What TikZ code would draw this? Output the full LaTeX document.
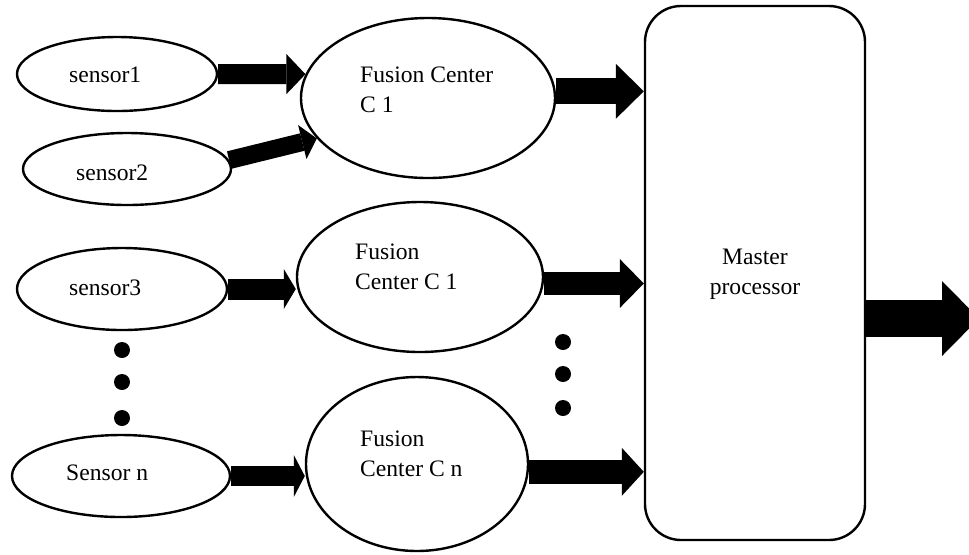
\documentclass[tikz,border=0pt]{standalone}
\usepackage{fontspec}
\setmainfont{Liberation Serif}
\usetikzlibrary{shapes.geometric,arrows.meta}
\begin{document}
\begin{tikzpicture}[x=0.5pt,y=-0.5pt,line width=1.2pt,
  oval/.style={ellipse,draw,fill=white,inner sep=0pt},
  procbox/.style={rectangle,draw,fill=white,rounded corners=18pt,inner sep=0pt},
  lbl/.style={font=\fontsize{11.8}{15}\selectfont,inner sep=0pt,align=left},
  blob/.style={fill=black},
  fat/.style n args={3}{line width=#1,
    -{Triangle[length=#3 0 0,width=#2 0 0,line width=0pt 0 0]}}]
\useasboundingbox (0,0) rectangle (969,554);
\clip (0,0) rectangle (969,554);

% sensors
\node[oval,minimum width=100pt,minimum height=37pt] (s1) at (117,74) {};
\node[oval,minimum width=104pt,minimum height=36pt] (s2) at (127,169) {};
\node[oval,minimum width=105pt,minimum height=41pt] (s3) at (122,289) {};
\node[oval,minimum width=109pt,minimum height=41pt] (sn) at (121,476) {};
\node[lbl,anchor=west] (s1t) at (68,75) {sensor1};
\node[lbl,anchor=west] (s2t) at (75,173) {sensor2};
\node[lbl,anchor=west] (s3t) at (68,288) {sensor3};
\node[lbl,anchor=west] (snt) at (65,473) {Sensor n};

% fusion centres
\node[oval,minimum width=127pt,minimum height=80pt] (fc1) at (428,98) {};
\node[oval,minimum width=123pt,minimum height=75pt] (fcm) at (420,277) {};
\node[oval,minimum width=111pt,minimum height=87pt] (fcn) at (417,464) {};
\node[lbl,anchor=west] (fc1t) at (359,90) {Fusion Center\\C 1};
\node[lbl,anchor=west] (fcmt) at (354,267) {Fusion\\Center C 1};
\node[lbl,anchor=west] (fcnt) at (359,454) {Fusion\\Center C n};

% master processor
\node[procbox,minimum width=110pt,minimum height=267pt] (master) at (755,273) {};
\node[lbl,align=center] (mastert) at (755,274) {Master\\processor};

% ellipsis dots
\fill[blob] (122,350) circle (4pt) (122,382) circle (4pt) (122,418) circle (4pt);
\fill[blob] (563,342) circle (4pt) (563,374) circle (4pt) (563,408) circle (4pt);

% block arrows
\draw[fat={10pt}{20pt}{9.5pt}] (s1.east) -- (fc1.169);
\draw[fat={9pt}{17.5pt}{7.5pt}] (s2.5) -- (fc1.200);
\draw[fat={10.5pt}{20pt}{6pt}] (s3.east) -- (s3.east -| fcm.west);
\draw[fat={10pt}{21pt}{5.5pt}] (sn.east) -- (sn.east -| fcn.west);
\draw[fat={13pt}{27.5pt}{14pt}] (fc1.3) -- (master.west |- fc1.3);
\draw[fat={11.5pt}{24.5pt}{12pt}] (fcm.-3) -- (master.west |- fcm.-3);
\draw[fat={12pt}{24pt}{11pt}] (fcn.-4) -- (master.west |- fcn.-4);
\coordinate (outend) at (979,318.5);
\draw[fat={18.5pt}{37.5pt}{18.5pt}] (master.east |- outend) -- (outend);
\end{tikzpicture}
\end{document}
